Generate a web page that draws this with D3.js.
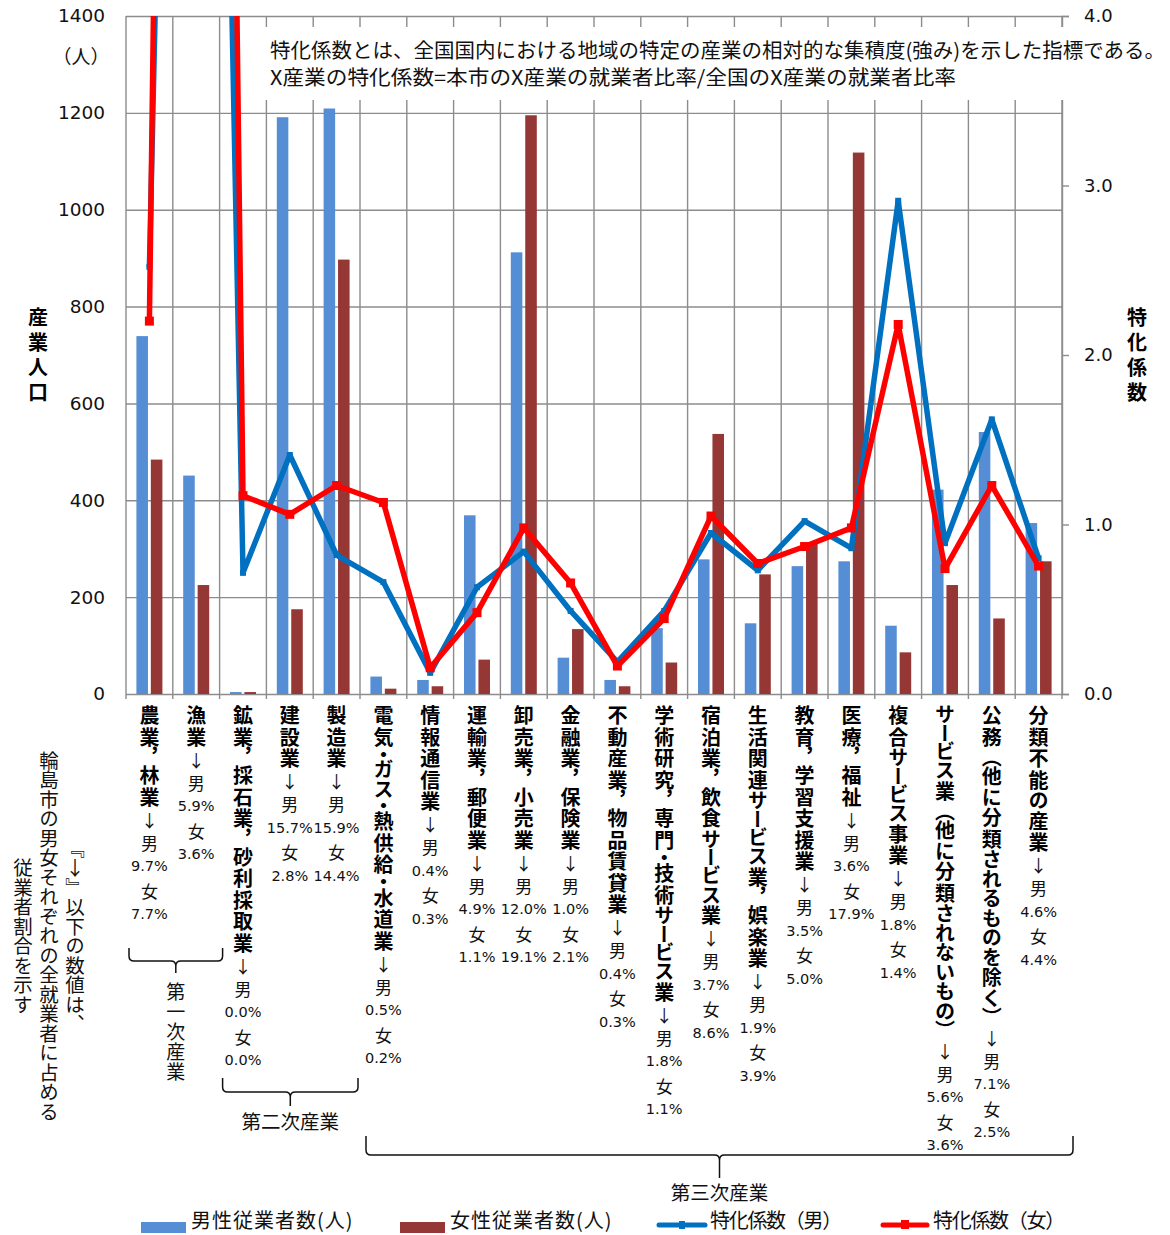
<!DOCTYPE html>
<html>
<head>
<meta charset="utf-8">
<script src="https://cdn.jsdelivr.net/npm/d3@7/dist/d3.min.js"></script>
<style>
html,body{margin:0;padding:0;background:#fff;}
svg{display:block;}
</style>
</head>
<body>
<svg id="chart" width="1170" height="1235"></svg>
<script>
// ---------------- data ----------------
const categories = [
  "農業，林業", "漁業", "鉱業，採石業，砂利採取業", "建設業", "製造業",
  "電気・ガス・熱供給・水道業", "情報通信業", "運輸業，郵便業", "卸売業，小売業", "金融業，保険業",
  "不動産業，物品賃貸業", "学術研究，専門・技術サービス業", "宿泊業，飲食サービス業", "生活関連サービス業，娯楽業", "教育，学習支援業",
  "医療，福祉", "複合サービス事業", "サービス業（他に分類されないもの）", "公務（他に分類されるものを除く）", "分類不能の産業"
];
const maleShare = ["9.7%","5.9%","0.0%","15.7%","15.9%","0.5%","0.4%","4.9%","12.0%","1.0%","0.4%","1.8%","3.7%","1.9%","3.5%","3.6%","1.8%","5.6%","7.1%","4.6%"];
const femaleShare = ["7.7%","3.6%","0.0%","2.8%","14.4%","0.2%","0.3%","1.1%","19.1%","2.1%","0.3%","1.1%","8.6%","3.9%","5.0%","17.9%","1.4%","3.6%","2.5%","4.4%"];
const maleWorkers = [739, 451, 4, 1191, 1209, 36, 29, 369, 912, 75, 29, 136, 278, 146, 264, 274, 141, 422, 541, 353];
const femaleWorkers = [484, 225, 4, 175, 897, 11, 16, 71, 1195, 134, 16, 65, 537, 247, 311, 1118, 86, 225, 156, 274];
const maleCoef = [2.52, 14.7, 0.715, 1.41, 0.82, 0.66, 0.125, 0.63, 0.84, 0.49, 0.19, 0.49, 0.95, 0.73, 1.02, 0.86, 2.91, 0.89, 1.62, 0.80];
const femaleCoef = [2.20, 23.2, 1.17, 1.06, 1.23, 1.13, 0.155, 0.48, 0.98, 0.655, 0.165, 0.445, 1.05, 0.77, 0.87, 0.98, 2.18, 0.74, 1.23, 0.755];
const leftTicks = [0, 200, 400, 600, 800, 1000, 1200, 1400];
const rightTicks = [0, 1, 2, 3, 4];
const sectors = [
  {name: "第一次産業", first: 0, last: 1},
  {name: "第二次産業", first: 2, last: 4},
  {name: "第三次産業", first: 5, last: 19}
];
const legendLabels = ["男性従業者数(人)", "女性従業者数(人)", "特化係数（男）", "特化係数（女）"];
const noteColumns = ["『↓』以下の数値は、", "輪島市の男女それぞれの全就業者に占める", "従業者割合を示す"];
const boxLines = [
  "特化係数とは、全国国内における地域の特定の産業の相対的な集積度(強み)を示した指標である。",
  "X産業の特化係数=本市のX産業の就業者比率/全国のX産業の就業者比率"
];

// ---------------- style ----------------
const JP = "'Noto Sans CJK JP','Noto Sans CJK SC',sans-serif";
const NUM = "'DejaVu Sans','Verdana',sans-serif";
const BLUE_BAR = "#558ed5", RED_BAR = "#953735", BLUE_LINE = "#0070c0", RED_LINE = "#ff0000";
const GRID = "#8c8c8c";

const svg = d3.select("#chart");
const plot = {l: 126, r: 1062, t: 16, b: 694};

const x = d3.scaleBand().domain(d3.range(categories.length)).range([plot.l, plot.r]).padding(0);
const xSub = d3.scaleBand().domain(["m", "f"]).range([-13, 13]).paddingInner(0.2);
const yL = d3.scaleLinear().domain([0, 1400]).range([plot.b, plot.t]);
const yR = d3.scaleLinear().domain([0, 4]).range([plot.b, plot.t]);
const cx = i => x(i) + x.bandwidth() / 2;

// ---------------- grid & axes ----------------
const gL = svg.append("g").attr("transform", `translate(${plot.l},0)`)
  .call(d3.axisLeft(yL).tickValues(leftTicks).tickSize(-(plot.r - plot.l)).tickPadding(21).tickFormat(d3.format("d")));
gL.select(".domain").remove();
gL.selectAll(".tick line").attr("stroke", GRID).attr("stroke-width", 1.4);
gL.selectAll(".tick text").attr("font-family", NUM).attr("font-size", 18.5).attr("fill", "#111");

const vgrid = svg.append("g").attr("stroke", GRID).attr("stroke-width", 1.4);
d3.range(categories.length + 1).forEach(k => {
  const xx = plot.l + k * x.step();
  vgrid.append("line").attr("x1", xx).attr("x2", xx).attr("y1", plot.t).attr("y2", plot.b + 5);
});

const gR = svg.append("g").attr("transform", `translate(${plot.r},0)`)
  .call(d3.axisRight(yR).tickValues(rightTicks).tickSize(7).tickPadding(15).tickFormat(d3.format(".1f")));
gR.select(".domain").attr("stroke", GRID).attr("stroke-width", 1.4);
gR.selectAll(".tick line").attr("stroke", GRID).attr("stroke-width", 1.4);
gR.selectAll(".tick text").attr("font-family", NUM).attr("font-size", 18).attr("fill", "#111");

// ---------------- bars ----------------
const barData = categories.map((c, i) => ({i, m: maleWorkers[i], f: femaleWorkers[i]}));
const bars = svg.append("g");
const series = [{key: "m", color: BLUE_BAR}, {key: "f", color: RED_BAR}];
series.forEach(s => {
  const g = bars.append("g");
  g.selectAll("rect.sh").data(barData).join("rect").attr("class", "sh")
    .attr("x", d => cx(d.i) + xSub(s.key) + 3)
    .attr("y", d => yL(d[s.key]) + 4)
    .attr("width", 3.5)
    .attr("height", d => Math.max(0, plot.b - yL(d[s.key]) - 4))
    .attr("fill", "#c4c4c4").attr("opacity", 0.8);
  g.selectAll("rect.bar").data(barData).join("rect").attr("class", "bar")
    .attr("x", d => cx(d.i) + xSub(s.key))
    .attr("y", d => yL(d[s.key]))
    .attr("width", xSub.bandwidth())
    .attr("height", d => plot.b - yL(d[s.key]))
    .attr("fill", s.color);
});

// ---------------- lines ----------------
svg.append("clipPath").attr("id", "plotclip").append("rect")
  .attr("x", plot.l).attr("y", plot.t).attr("width", plot.r - plot.l).attr("height", plot.b - plot.t + 6);
const lineG = svg.append("g").attr("clip-path", "url(#plotclip)");
const line = d3.line().x((d, i) => cx(i)).y(d => yR(d));
[{vals: maleCoef, color: BLUE_LINE, ms: 6}, {vals: femaleCoef, color: RED_LINE, ms: 9}].forEach(s => {
  lineG.append("path").datum(s.vals).attr("d", line)
    .attr("fill", "none").attr("stroke", s.color).attr("stroke-width", 5.5)
    .attr("stroke-linejoin", "round");
  lineG.selectAll(null).data(s.vals).join("rect")
    .attr("x", (d, i) => cx(i) - s.ms / 2).attr("y", d => yR(d) - s.ms / 2)
    .attr("width", s.ms).attr("height", s.ms).attr("fill", s.color);
});

// ---------------- note box ----------------
svg.append("rect").attr("x", 264).attr("y", 27).attr("width", 906).attr("height", 73).attr("fill", "#fff");
const boxLens = [895, 686];
boxLines.forEach((t, k) => {
  svg.append("text").attr("x", 270).attr("y", 58 + k * 27)
    .attr("font-family", JP).attr("font-size", 20).attr("fill", "#111")
    .attr("textLength", boxLens[k]).attr("lengthAdjust", "spacingAndGlyphs")
    .text(t);
});

// ---------------- axis titles ----------------
svg.append("text").attr("x", 81).attr("y", 55).attr("text-anchor", "middle").attr("dominant-baseline", "central")
  .attr("font-family", JP).attr("font-size", 19).attr("fill", "#111").text("（人）");
const vertTitle = (str, xx) => {
  svg.append("text").attr("x", xx).attr("y", 357.5)
    .attr("text-anchor", "middle")
    .style("writing-mode", "vertical-rl").style("letter-spacing", "5px")
    .attr("font-family", JP).attr("font-size", 20).attr("font-weight", 700).attr("fill", "#000")
    .text(str);
};
vertTitle("産業人口", 38);
vertTitle("特化係数", 1137);

// ---------------- category labels ----------------
const KANA = /[\u3040-\u30ff]/;
function charH(ch) {
  if (ch === "，") return 17;
  if (ch === "・") return 12;
  if (ch === "ー") return 17;
  if (ch === "（" || ch === "）") return 18;
  if (KANA.test(ch)) return 19.5;
  return 21.5;
}
const labG = svg.append("g");
categories.forEach((name, i) => {
  const c = cx(i);
  let cur = 705;
  Array.from(name).forEach(ch => {
    const h = charH(ch);
    const cy = cur + h / 2;
    labG.append("text").attr("x", c).attr("y", cy)
      .attr("text-anchor", "middle")
      .style("writing-mode", "vertical-rl")
      .attr("font-family", JP).attr("font-size", 20).attr("font-weight", 700).attr("fill", "#000")
      .text(ch);
    cur += h;
  });
  const tail = [
    {t: "↓", h: 22, f: JP, s: 17},
    {t: "男", h: 24, f: JP, s: 17},
    {t: maleShare[i], h: 24, f: NUM, s: 14.5},
    {t: "女", h: 24, f: JP, s: 17},
    {t: femaleShare[i], h: 24, f: NUM, s: 14.5}
  ];
  tail.forEach(o => {
    labG.append("text").attr("x", c).attr("y", cur + o.h / 2)
      .attr("text-anchor", "middle").attr("dominant-baseline", "central")
      .attr("font-family", o.f).attr("font-size", o.s).attr("fill", "#111").text(o.t);
    cur += o.h;
  });
});

// ---------------- sector braces ----------------
function brace(x1, x2, yTop, yLine, yTip) {
  const xc = (x1 + x2) / 2, r = 5;
  return `M${x1},${yTop} V${yLine - r} Q${x1},${yLine} ${x1 + r},${yLine} H${xc - r} Q${xc},${yLine} ${xc},${yLine + r} V${yTip}` +
         `M${x2},${yTop} V${yLine - r} Q${x2},${yLine} ${x2 - r},${yLine} H${xc + r} Q${xc},${yLine} ${xc},${yLine + r}`;
}
const braceSpec = [
  {dx1: 3, dx2: 3, yTop: 948, yLine: 961, yTip: 973},
  {dx1: 3, dx2: -2, yTop: 1078, yLine: 1092, yTip: 1106},
  {dx1: 6, dx2: 11, yTop: 1136, yLine: 1155, yTip: 1178}
];
sectors.forEach((s, k) => {
  const b = braceSpec[k];
  const x1 = x(s.first) + b.dx1, x2 = x(s.last) + x.bandwidth() + b.dx2;
  svg.append("path").attr("d", brace(x1, x2, b.yTop, b.yLine, b.yTip))
    .attr("fill", "none").attr("stroke", "#111").attr("stroke-width", 1.5);
  const xc = (x1 + x2) / 2;
  if (k === 0) {
    svg.append("text").attr("x", xc).attr("y", 1032)
      .attr("text-anchor", "middle")
      .style("writing-mode", "vertical-rl").style("letter-spacing", "1px")
      .attr("font-family", JP).attr("font-size", 19).attr("fill", "#111").text(s.name);
  } else {
    svg.append("text").attr("x", xc).attr("y", k === 1 ? 1120 : 1191)
      .attr("text-anchor", "middle").attr("dominant-baseline", "central")
      .attr("font-family", JP).attr("font-size", 19.5).attr("fill", "#111").text(s.name);
  }
});

// ---------------- left note (vertical) ----------------
const noteX = [75, 49, 23];
noteColumns.forEach((t, k) => {
  svg.append("text").attr("x", noteX[k]).attr("y", 936)
    .attr("text-anchor", "middle")
    .style("writing-mode", "vertical-rl").style("text-orientation", "upright")
    .attr("font-family", JP).attr("font-size", 19.5).attr("fill", "#111").text(t);
});

// ---------------- legend ----------------
const lg = svg.append("g");
lg.append("rect").attr("x", 141).attr("y", 1222).attr("width", 45).attr("height", 11).attr("fill", BLUE_BAR);
lg.append("rect").attr("x", 400).attr("y", 1222).attr("width", 45).attr("height", 11).attr("fill", RED_BAR);
lg.append("line").attr("x1", 659).attr("x2", 705).attr("y1", 1225).attr("y2", 1225)
  .attr("stroke", BLUE_LINE).attr("stroke-width", 5).attr("stroke-linecap", "round");
lg.append("line").attr("x1", 883).attr("x2", 927).attr("y1", 1225).attr("y2", 1225)
  .attr("stroke", RED_LINE).attr("stroke-width", 5).attr("stroke-linecap", "round");
lg.append("rect").attr("x", 679).attr("y", 1221).attr("width", 6).attr("height", 8).attr("fill", BLUE_LINE);
lg.append("rect").attr("x", 901).attr("y", 1220).attr("width", 8).attr("height", 9).attr("fill", RED_LINE);
const legX = [191, 450, 710, 933], legSp = ["1px", "1px", "-1.3px", "-1.3px"];
legendLabels.forEach((t, k) => {
  lg.append("text").attr("x", legX[k]).attr("y", 1228)
    .attr("font-family", JP).attr("font-size", 20).attr("fill", "#111")
    .style("letter-spacing", legSp[k]).text(t);
});
</script>
</body>
</html>
